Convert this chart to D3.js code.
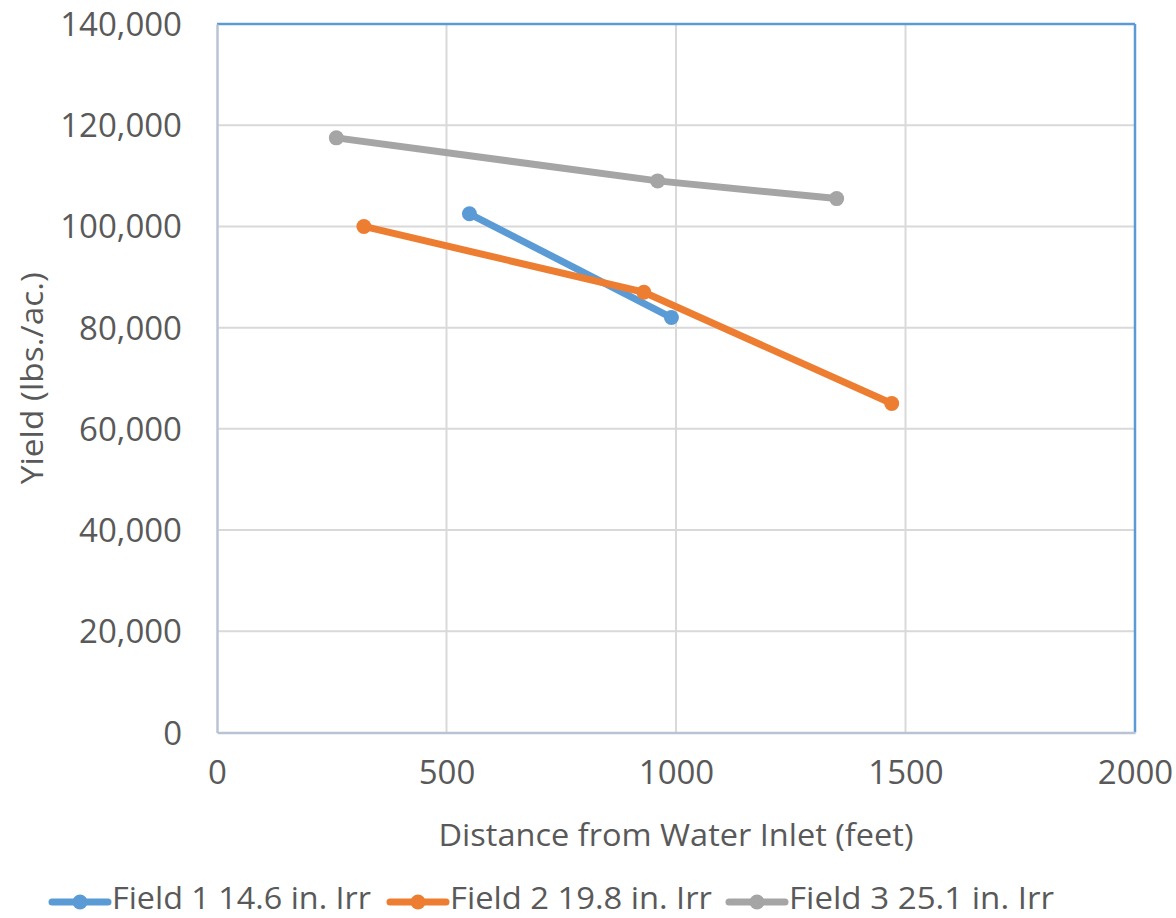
<!DOCTYPE html>
<html>
<head>
<meta charset="utf-8">
<script src="https://cdn.jsdelivr.net/npm/d3@7"></script>
<style>
  html, body { margin: 0; padding: 0; background: #ffffff; }
  svg text { font-family: "Open Sans", "Noto Sans", sans-serif; fill: #595959; }
</style>
</head>
<body>
<svg id="chart" width="1176" height="918"></svg>
<script>
// Yield by distance from the water inlet, three fields at different irrigation depths
const seriesNames = ["Field 1 14.6 in. Irr", "Field 2 19.8 in. Irr", "Field 3 25.1 in. Irr"];
const seriesColors = ["#5b9bd5", "#ed7d31", "#a5a5a5"];

const field1Distance = [550, 990];
const field1Yield = [102500, 82000];

const field2Distance = [320, 930, 1470];
const field2Yield = [100000, 87000, 65000];

const field3Distance = [260, 960, 1350];
const field3Yield = [117500, 109000, 105500];

const xTicks = [0, 500, 1000, 1500, 2000];
const yTicks = [0, 20000, 40000, 60000, 80000, 100000, 120000, 140000];

const xTitle = "Distance from Water Inlet (feet)";
const yTitle = "Yield (lbs./ac.)";

const series = [
  { name: seriesNames[0], color: seriesColors[0], pts: field1Distance.map((d, i) => [d, field1Yield[i]]) },
  { name: seriesNames[1], color: seriesColors[1], pts: field2Distance.map((d, i) => [d, field2Yield[i]]) },
  { name: seriesNames[2], color: seriesColors[2], pts: field3Distance.map((d, i) => [d, field3Yield[i]]) }
];

const svg = d3.select("#chart");
const plot = { left: 217, right: 1135, top: 24, bottom: 732.5 };

const x = d3.scaleLinear().domain([0, 2000]).range([plot.left, plot.right]);
const y = d3.scaleLinear().domain([0, 140000]).range([plot.bottom, plot.top]);

// gridlines
const grid = svg.append("g");
grid.selectAll("line.v").data(xTicks.slice(1, -1)).enter().append("line")
  .attr("x1", d => x(d)).attr("x2", d => x(d))
  .attr("y1", plot.top).attr("y2", plot.bottom)
  .attr("stroke", "#d9d9d9").attr("stroke-width", 2);
grid.selectAll("line.h").data(yTicks.slice(1, -1)).enter().append("line")
  .attr("x1", plot.left).attr("x2", plot.right)
  .attr("y1", d => y(d)).attr("y2", d => y(d))
  .attr("stroke", "#d9d9d9").attr("stroke-width", 2);

// plot area frame: blue top/right, grey-blue axes left/bottom
svg.append("line").attr("x1", plot.left).attr("x2", plot.right)
  .attr("y1", plot.top).attr("y2", plot.top)
  .attr("stroke", "#5b9bd5").attr("stroke-width", 2.5);
svg.append("line").attr("x1", plot.right).attr("x2", plot.right)
  .attr("y1", plot.top).attr("y2", plot.bottom)
  .attr("stroke", "#5b9bd5").attr("stroke-width", 2.5);

// axes via d3-axis
const fmt = d3.format(",");
const yAxis = svg.append("g").attr("transform", `translate(${plot.left},0)`)
  .call(d3.axisLeft(y).tickValues(yTicks).tickFormat(fmt).tickSize(0).tickPadding(35));
const xAxis = svg.append("g").attr("transform", `translate(0,${plot.bottom})`)
  .call(d3.axisBottom(x).tickValues(xTicks).tickFormat(d3.format("d")).tickSize(0).tickPadding(32));
[xAxis, yAxis].forEach(a => {
  a.select(".domain").attr("stroke", "#b8c4d4").attr("stroke-width", 2.5);
  a.selectAll("text").attr("font-size", 33).attr("fill", "#595959")
    .style("font-family", '"Open Sans", sans-serif');
});
yAxis.selectAll("text").attr("dy", "0.35em");
xAxis.selectAll("text").attr("dy", "0.6em");

// axis titles
svg.append("text").attr("x", (plot.left + plot.right) / 2).attr("y", 846)
  .attr("text-anchor", "middle").attr("font-size", 31)
  .attr("textLength", 475).attr("lengthAdjust", "spacingAndGlyphs").text(xTitle);
svg.append("text").attr("transform", `translate(43,${(plot.top + plot.bottom) / 2}) rotate(-90)`)
  .attr("text-anchor", "middle").attr("font-size", 31)
  .attr("textLength", 212).attr("lengthAdjust", "spacingAndGlyphs").text(yTitle);

// series lines and markers
const line = d3.line().x(d => x(d[0])).y(d => y(d[1]));
series.forEach(s => {
  const g = svg.append("g");
  g.append("path").attr("d", line(s.pts)).attr("fill", "none")
    .attr("stroke", s.color).attr("stroke-width", 7).attr("stroke-linejoin", "round");
  g.selectAll("circle").data(s.pts).enter().append("circle")
    .attr("cx", d => x(d[0])).attr("cy", d => y(d[1])).attr("r", 7.5).attr("fill", s.color);
});

// legend
const legendStarts = [52, 390, 729];
const legendTextLen = [259, 262, 265];
const legend = svg.append("g");
series.forEach((s, i) => {
  const lx = legendStarts[i];
  const ly = 902;
  legend.append("line").attr("x1", lx).attr("x2", lx + 56).attr("y1", ly).attr("y2", ly)
    .attr("stroke", s.color).attr("stroke-width", 7).attr("stroke-linecap", "round");
  legend.append("circle").attr("cx", lx + 28).attr("cy", ly).attr("r", 7.5).attr("fill", s.color);
  legend.append("text").attr("x", lx + 60).attr("y", 909)
    .attr("font-size", 31).attr("textLength", legendTextLen[i]).attr("lengthAdjust", "spacingAndGlyphs")
    .text(s.name);
});
</script>
</body>
</html>
